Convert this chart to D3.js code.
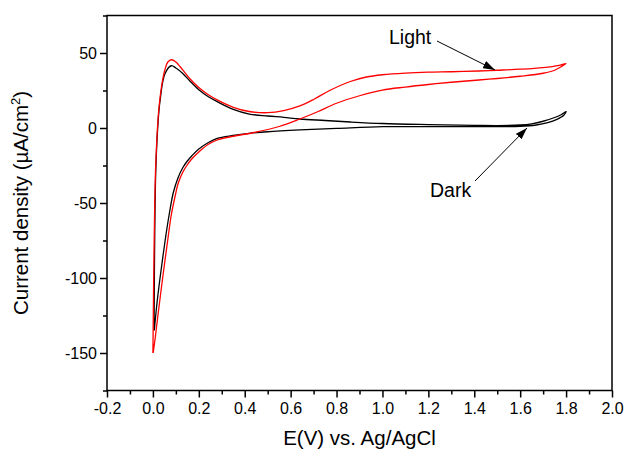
<!DOCTYPE html>
<html><head><meta charset="utf-8">
<script src="https://cdn.jsdelivr.net/npm/d3@7"></script>
<style>
body{margin:0;background:#fff;}
svg{display:block;font-family:"Liberation Sans",Arial,sans-serif;}
</style></head>
<body>
<svg id="chart" width="624" height="450"></svg>
<script>
// ---- data (potential in V vs Ag/AgCl, current density in µA/cm²) ----
const darkE = [0.005,0.008,0.013,0.024,0.031,0.052,0.08,0.1,0.13,0.16,0.2,0.24,0.28,0.35,0.42,0.5,0.57,0.64,0.75,0.86,1.0,1.2,1.4,1.5,1.6,1.65,1.7,1.75,1.78,1.8,
               1.79,1.76,1.72,1.67,1.6,1.4,1.2,1.0,0.8,0.64,0.5,0.42,0.35,0.28,0.24,0.2,0.17,0.15,0.13,0.11,0.089,0.075,0.06,0.038,0.019,0.006];
const darkI = [-135,-70,-26,7,18,36,41.5,40,36.4,31.5,25.5,21,17.6,12.4,9.3,8,7.1,6,5,4,3,2.3,1.8,1.6,2.0,2.8,4.5,7,9,11,
               8.5,5.8,3.6,2.0,1.1,0.9,0.9,0.9,-0.3,-1.3,-2.5,-3.6,-5,-6.9,-9.8,-14,-18.5,-22,-26.5,-33,-43,-54,-68,-92,-115,-135];
const lightE = [0.0,0.006,0.012,0.023,0.03,0.04,0.052,0.065,0.081,0.1,0.13,0.16,0.2,0.24,0.28,0.35,0.42,0.5,0.57,0.64,0.7,0.77,0.86,0.93,1.0,1.1,1.2,1.3,1.42,1.5,1.6,1.7,1.77,1.8,
                1.78,1.75,1.7,1.6,1.5,1.42,1.3,1.2,1.1,1.0,0.9,0.8,0.72,0.64,0.55,0.44,0.35,0.28,0.24,0.2,0.17,0.15,0.13,0.11,0.096,0.08,0.067,0.045,0.023,0.01,0.001];
const lightI = [-150,-70,-26,7.5,18.7,30,38.7,44,45.5,44,38.7,33,27,22.3,18.7,13.8,11,10.2,11.6,14.7,19,25,31,34,35.5,36.6,37.2,37.5,38,38.5,39.2,40.3,41.8,43,
                41,38.5,36.5,34.5,33,32,30.5,29,27.3,25.3,21.5,16.5,11,6,1,-3,-5.5,-8,-11,-16,-20.5,-24.5,-29.5,-37,-46,-58,-72,-97,-123.5,-140,-150];
const xTicks = [-0.2,0.0,0.2,0.4,0.6,0.8,1.0,1.2,1.4,1.6,1.8,2.0];
const yTicks = [-150,-100,-50,0,50];

// ---- layout ----
const svg = d3.select("#chart");
const L = 107, R = 612, T = 15.5, B = 390.5;
const x = d3.scaleLinear().domain([-0.2, 2.0]).range([L, R]);
const y = d3.scaleLinear().domain([-175, 75]).range([B, T]);

// minor ticks
const xMinor = d3.range(-0.1, 2.0, 0.2);
const yMinor = d3.range(-175, 76, 50).filter(v => !yTicks.includes(v));

const xAxis = d3.axisBottom(x).tickValues(xTicks).tickFormat(d3.format(".1f")).tickSize(7).tickPadding(5);
const yAxis = d3.axisLeft(y).tickValues(yTicks).tickFormat(d => d).tickSize(7).tickPadding(3);

const gx = svg.append("g").attr("transform", `translate(0,${B})`).call(xAxis);
const gy = svg.append("g").attr("transform", `translate(${L},0)`).call(yAxis);
svg.append("g").attr("transform", `translate(0,${B})`)
  .call(d3.axisBottom(x).tickValues(xMinor).tickSize(4).tickFormat(""));
svg.append("g").attr("transform", `translate(${L},0)`)
  .call(d3.axisLeft(y).tickValues(yMinor).tickSize(4).tickFormat(""));

svg.selectAll(".domain").remove();
svg.selectAll(".tick line").attr("stroke", "#000").attr("stroke-width", 1.5);
gx.selectAll(".tick text").attr("font-size", 16).attr("fill", "#000")
  .text(d => d3.format(".1f")(d).replace("−", "-"));
gy.selectAll(".tick text").attr("font-size", 16).attr("fill", "#000")
  .text(d => String(d));

// frame
svg.append("rect").attr("x", L).attr("y", T).attr("width", R - L).attr("height", B - T)
  .attr("fill", "none").attr("stroke", "#000").attr("stroke-width", 1.5);

// curves
const line = d3.line().x(d => x(d[0])).y(d => y(d[1])).curve(d3.curveCatmullRom.alpha(0.5));
const dark = darkE.map((e, i) => [e, darkI[i]]);
const light = lightE.map((e, i) => [e, lightI[i]]);
svg.append("path").attr("d", line(dark)).attr("fill", "none").attr("stroke", "#000").attr("stroke-width", 1.3);
svg.append("path").attr("d", line(light)).attr("fill", "none").attr("stroke", "#ff0000").attr("stroke-width", 1.3);

// arrow marker
svg.append("defs").append("marker").attr("id", "arr")
  .attr("viewBox", "0 0 12 8").attr("refX", 12).attr("refY", 4)
  .attr("markerWidth", 12).attr("markerHeight", 8).attr("markerUnits", "userSpaceOnUse")
  .attr("orient", "auto")
  .append("path").attr("d", "M0,0 L12,4 L0,8 Z").attr("fill", "#000");

// annotations
svg.append("text").attr("x", 389).attr("y", 44).attr("font-size", 19.5).text("Light");
svg.append("line").attr("x1", 437).attr("y1", 41).attr("x2", 495).attr("y2", 70)
  .attr("stroke", "#000").attr("stroke-width", 1).attr("marker-end", "url(#arr)");
svg.append("text").attr("x", 430).attr("y", 197).attr("font-size", 19.5).text("Dark");
svg.append("line").attr("x1", 475).attr("y1", 181).attr("x2", 527).attr("y2", 128)
  .attr("stroke", "#000").attr("stroke-width", 1).attr("marker-end", "url(#arr)");

// axis titles
svg.append("text").attr("x", (L + R) / 2).attr("y", 445).attr("text-anchor", "middle")
  .attr("font-size", 20.5).text("E(V) vs. Ag/AgCl");
const yt = svg.append("text").attr("transform", `translate(28,${(T + B) / 2}) rotate(-90)`)
  .attr("text-anchor", "middle").attr("font-size", 20.5);
yt.append("tspan").text("Current density (µA/cm");
yt.append("tspan").attr("font-size", 13).attr("dy", -8).text("2");
yt.append("tspan").attr("dy", 8).text(")");
</script>
</body></html>
